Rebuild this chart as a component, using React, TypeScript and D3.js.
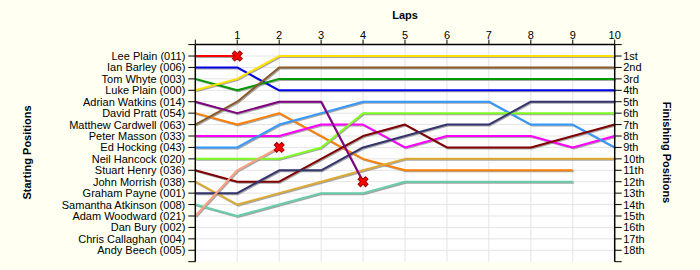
import React from "react";
import * as d3 from "d3";

const startLabels = [
  "Lee Plain (011)", "Ian Barley (006)", "Tom Whyte (003)", "Luke Plain (000)",
  "Adrian Watkins (014)", "David Pratt (054)", "Matthew Cardwell (063)", "Peter Masson (033)",
  "Ed Hocking (043)", "Neil Hancock (020)", "Stuart Henry (036)", "John Morrish (038)",
  "Graham Payne (001)", "Samantha Atkinson (008)", "Adam Woodward (021)", "Dan Bury (002)",
  "Chris Callaghan (004)", "Andy Beech (005)",
];
const finishLabels = [
  "1st", "2nd", "3rd", "4th", "5th", "6th", "7th", "8th", "9th",
  "10th", "11th", "12th", "13th", "14th", "15th", "16th", "17th", "18th",
];
const lapTicks = [1, 2, 3, 4, 5, 6, 7, 8, 9, 10];

// position at lap 0 (start), lap 1, lap 2, ...
const leePlain = [1, 1];
const ianBarley = [2, 2, 4, 4, 4, 4, 4, 4, 4, 4, 4];
const tomWhyte = [3, 4, 3, 3, 3, 3, 3, 3, 3, 3, 3];
const lukePlain = [4, 3, 1, 1, 1, 1, 1, 1, 1, 1, 1];
const adrianWatkins = [5, 6, 5, 5, 12];
const davidPratt = [6, 7, 6, 8, 10, 11, 11, 11, 11, 11];
const matthewCardwell = [7, 5, 2, 2, 2, 2, 2, 2, 2, 2, 2];
const peterMasson = [8, 8, 8, 7, 7, 9, 8, 8, 8, 9, 8];
const edHocking = [9, 9, 7, 6, 5, 5, 5, 5, 7, 7, 9];
const neilHancock = [10, 10, 10, 9, 6, 6, 6, 6, 6, 6, 6];
const stuartHenry = [11, 12, 12, 10, 8, 7, 9, 9, 9, 8, 7];
const johnMorrish = [12, 14, 13, 12, 11, 10, 10, 10, 10, 10, 10];
const grahamPayne = [13, 13, 11, 11, 9, 8, 7, 7, 5, 5, 5];
const samanthaAtkinson = [14, 15, 14, 13, 13, 12, 12, 12, 12, 12];
const adamWoodward = [15, 11, 9];

const seriesData = [
  leePlain, ianBarley, tomWhyte, lukePlain, adrianWatkins, davidPratt, matthewCardwell,
  peterMasson, edHocking, neilHancock, stuartHenry, johnMorrish, grahamPayne,
  samanthaAtkinson, adamWoodward,
];
const seriesColors = [
  "#ff0000", "#0000e6", "#009900", "#ffe000", "#800080", "#ff8000", "#8b5a2b",
  "#ff00ff", "#3399ff", "#80ff20", "#800000", "#ddaa33", "#33336e",
  "#66ccaa", "#ffa080",
];
const retired = [
  true, false, false, false, true, false, false,
  false, false, false, false, false, false,
  false, true,
];

const W = 700;
const H = 270;
const FONT = "'Liberation Sans', Arial, sans-serif";

export default function App() {
  const x = d3.scaleLinear().domain([0, 10]).range([195.3, 614.7]);
  const y = d3.scaleLinear().domain([0, 19]).range([44.6, 261.7]);
  const rows = d3.range(1, 19);
  const line = d3
    .line<number>()
    .x((_, i) => x(i))
    .y((d) => y(d));

  const order = d3.range(seriesData.length).sort(
    (a, b) => Number(retired[a]) - Number(retired[b]) || a - b
  );
  const marker = d3.symbol(d3.symbolCross, 62)();

  const x0 = x(0), x1 = x(10), y0 = y(0), y1 = y(19);

  return (
    <svg
      width={W}
      height={H}
      style={{ position: "absolute", left: 0, top: 0 }}
      fontFamily={FONT}
    >
      <rect x={0} y={0} width={W} height={H} fill="#fffff2" />
      <rect x={x0} y={y0} width={x1 - x0} height={y1 - y0} fill="#ffffff" />
      {/* grid */}
      {rows.map((r) => (
        <line key={"h" + r} x1={x0} x2={x1} y1={y(r)} y2={y(r)} stroke="#e4e4e4" strokeWidth={1} />
      ))}
      {lapTicks.slice(0, 9).map((l) => (
        <line key={"v" + l} x1={x(l)} x2={x(l)} y1={y0} y2={y1} stroke="#e4e4e4" strokeWidth={1} />
      ))}
      {/* shadows */}
      {order.map((i) => (
        <path
          key={"s" + i}
          d={line(seriesData[i]) || ""}
          fill="none"
          stroke="#8a8a8a"
          strokeOpacity={0.75}
          strokeWidth={2}
          transform="translate(1,1)"
        />
      ))}
      {/* lines */}
      {order.map((i) => (
        <path
          key={"l" + i}
          d={line(seriesData[i]) || ""}
          fill="none"
          stroke={seriesColors[i]}
          strokeWidth={2}
          strokeLinejoin="round"
        />
      ))}
      {/* retirement markers */}
      {order
        .filter((i) => retired[i])
        .map((i) => {
          const d = seriesData[i];
          const li = d.length - 1;
          return (
            <path
              key={"m" + i}
              d={marker || ""}
              transform={`translate(${x(li)},${y(d[li])}) rotate(45)`}
              fill="#ff0000"
              stroke="#a00000"
              strokeWidth={1}
            />
          );
        })}
      {/* axes */}
      <line x1={x0} x2={x1} y1={y0} y2={y0} stroke="#000" strokeWidth={1.5} />
      <line x1={x0} x2={x0} y1={y0} y2={y1} stroke="#000" strokeWidth={1.5} />
      <line x1={x1} x2={x1} y1={y0} y2={y1} stroke="#000" strokeWidth={1.5} />
      {[0, ...lapTicks].map((l) => (
        <line key={"tt" + l} x1={x(l)} x2={x(l)} y1={y0} y2={y0 - 5} stroke="#000" strokeWidth={1} />
      ))}
      {[0, ...rows, 19].map((r) => (
        <g key={"rt" + r}>
          <line x1={x0 - 7} x2={x0} y1={y(r)} y2={y(r)} stroke="#000" strokeWidth={1} />
          <line x1={x1} x2={x1 + 7} y1={y(r)} y2={y(r)} stroke="#000" strokeWidth={1} />
        </g>
      ))}
      {lapTicks.map((l) => (
        <text key={"tl" + l} x={x(l)} y={38.5} fontSize={11} textAnchor="middle" fill="#000">
          {l}
        </text>
      ))}
      {startLabels.map((s, i) => (
        <text key={"sl" + i} x={x0 - 10} y={y(i + 1) + 4} fontSize={11} textAnchor="end" fill="#000">
          {s}
        </text>
      ))}
      {finishLabels.map((s, i) => (
        <text key={"fl" + i} x={x1 + 8.5} y={y(i + 1) + 4} fontSize={11} textAnchor="start" fill="#000">
          {s}
        </text>
      ))}
      <text x={(x0 + x1) / 2} y={19} fontSize={11} fontWeight="bold" textAnchor="middle" fill="#000">
        Laps
      </text>
      <text
        transform="translate(30.8,152.5) rotate(-90)"
        fontSize={11}
        fontWeight="bold"
        textAnchor="middle"
        fill="#000"
      >
        Starting Positions
      </text>
      <text
        transform="translate(662.5,152.5) rotate(90)"
        fontSize={11}
        fontWeight="bold"
        textAnchor="middle"
        fill="#000"
      >
        Finishing Positions
      </text>
    </svg>
  );
}
